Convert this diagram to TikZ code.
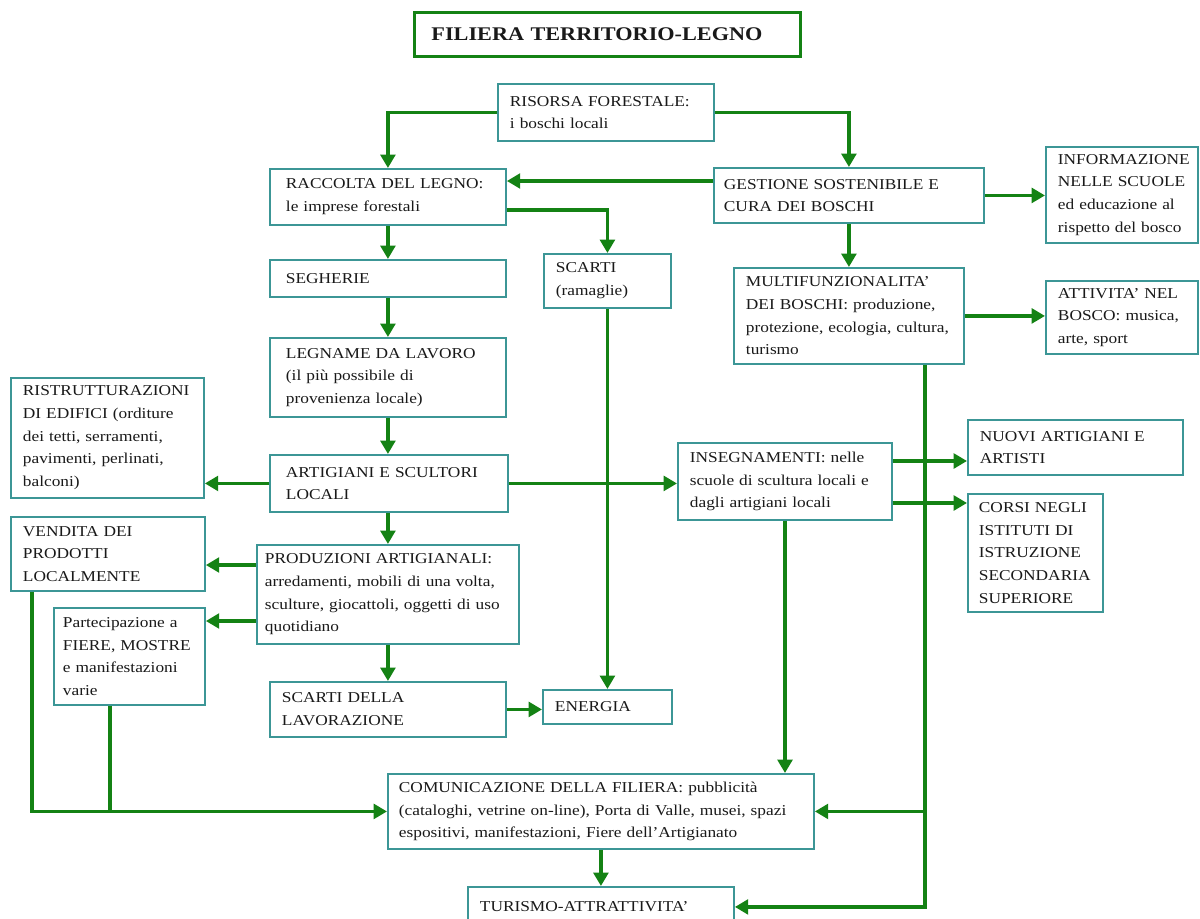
\documentclass[tikz,border=0pt]{standalone}
\usepackage{fontspec}
\setmainfont{Liberation Serif}[FakeStretch=1.15]
\usetikzlibrary{arrows.meta}
\definecolor{arrgreen}{RGB}{20,130,20}
\definecolor{boxteal}{RGB}{60,150,150}
\definecolor{txt}{RGB}{25,25,25}
\tikzset{
  box/.style={draw=boxteal, line width=1.4pt, fill=white, align=left, inner ysep=1pt,
    font=\fontsize{11.3}{17}\selectfont, text=txt},
  titlebox/.style={draw=arrgreen, line width=2.2pt, fill=white, align=left, inner ysep=1pt,
    font=\fontsize{14.5}{17}\selectfont\bfseries, text=txt},
  arr/.style={draw=arrgreen, line width=2.6pt, -{Triangle[length=10pt,width=11pt]}},
  lin/.style={draw=arrgreen, line width=2.6pt},
}
\newcommand\bx[7][12]{%
  \pgfmathsetmacro\bxw{(#5-#3)*0.75}%
  \pgfmathsetmacro\bxh{(#6-#4)*0.75}%
  \pgfmathsetmacro\bxs{#1*0.75}%
  \pgfmathsetmacro\bxt{(#5-#3-2*#1)*0.75}%
  \node[box, anchor=north west, inner xsep=\bxs pt, minimum width=\bxw pt,
    minimum height=\bxh pt, text width=\bxt pt] (#2) at (#3,#4) {#7};}
\begin{document}
\begin{tikzpicture}[x=0.75pt,y=-0.75pt]
\fill[white] (0,0) rectangle (1200,918);
\useasboundingbox (0,0) rectangle (1200,918);

% title
\node[titlebox, anchor=north west, inner xsep=12.75pt, minimum width=289.5pt,
  minimum height=33pt, text width=264pt] (title) at (413,11) {FILIERA TERRITORIO-LEGNO};

% boxes
\bx{ris}{497}{83}{713}{140}{RISORSA FORESTALE:\\ i boschi locali}
\bx[16]{rac}{269}{168}{505}{224}{RACCOLTA DEL LEGNO:\\ le imprese forestali}
\bx[16]{seg}{269}{259}{505}{296}{SEGHERIE}
\bx{sca}{543}{253}{670}{307}{SCARTI\\ (ramaglie)}
\bx[10]{ges}{713}{167}{983}{222}{GESTIONE SOSTENIBILE E\\ CURA DEI BOSCHI}
\bx{inf}{1045}{146}{1197}{242}{INFORMAZIONE\\ NELLE SCUOLE\\ ed educazione al\\ rispetto del bosco}
\bx{mul}{733}{267}{963}{363}{MULTIFUNZIONALITA'\\ DEI BOSCHI: produzione,\\ protezione, ecologia, cultura,\\ turismo}
\bx{att}{1045}{280}{1197}{353}{ATTIVITA' NEL\\ BOSCO: musica,\\ arte, sport}
\bx[16]{leg}{269}{337}{505}{416}{LEGNAME DA LAVORO\\ (il più possibile di\\ provenienza locale)}
\bx{rst}{10}{377}{203}{497}{RISTRUTTURAZIONI\\ DI EDIFICI (orditure\\ dei tetti, serramenti,\\ pavimenti, perlinati,\\ balconi)}
\bx[16]{art}{269}{454}{507}{511}{ARTIGIANI E SCULTORI\\ LOCALI}
\bx{ins}{677}{442}{891}{519}{INSEGNAMENTI: nelle\\ scuole di scultura locali e\\ dagli artigiani locali}
\bx{nuo}{967}{419}{1182}{474}{NUOVI ARTIGIANI E\\ ARTISTI}
\bx[11]{cor}{967}{493}{1102}{611}{CORSI NEGLI\\ ISTITUTI DI\\ ISTRUZIONE\\ SECONDARIA\\ SUPERIORE}
\bx{ven}{10}{516}{204}{590}{VENDITA DEI\\ PRODOTTI\\ LOCALMENTE}
\bx[8]{pro}{256}{544}{518}{643}{PRODUZIONI ARTIGIANALI:\\ arredamenti, mobili di una volta,\\ sculture, giocattoli, oggetti di uso\\ quotidiano}
\bx[9]{par}{53}{607}{204}{704}{Partecipazione a\\ FIERE,~MOSTRE\\ e manifestazioni\\ varie}
\bx{scl}{269}{681}{505}{736}{SCARTI DELLA\\ LAVORAZIONE}
\bx{ene}{542}{689}{671}{723}{ENERGIA}
\bx[11]{com}{387}{773}{813}{848}{COMUNICAZIONE DELLA FILIERA: pubblicità\\ (cataloghi, vetrine on-line), Porta di Valle, musei, spazi\\ espositivi, manifestazioni, Fiere dell'Artigianato}
\bx{tur}{467}{886}{733}{926}{TURISMO-ATTRATTIVITA'}

% connectors
\draw[arr] (ris.west) -| (rac.north);
\draw[arr] (ris.east) -| (ges.north);
\draw[arr] (ges.west |- 0,181) -- (rac.east |- 0,181);
\draw[arr] (rac.east |- 0,210) -| (sca.north);
\draw[arr] (rac.south) -- (seg.north);
\draw[arr] (seg.south) -- (leg.north);
\draw[arr] (leg.south) -- (art.north -| leg.south);
\draw[arr] (art.south -| leg.south) -- (pro.north -| leg.south);
\draw[arr] (pro.south -| leg.south) -- (scl.north -| leg.south);
\draw[arr] (art.west) -- (rst.east |- art.west);
\draw[arr] (art.east) -- (ins.west |- art.east);
\draw[arr] (sca.south) -- (ene.north -| sca.south);
\draw[arr] (scl.east) -- (ene.west |- scl.east);
\draw[arr] (pro.west |- 0,565) -- (ven.east |- 0,565);
\draw[arr] (pro.west |- 0,621) -- (par.east |- 0,621);
\draw[arr] (ven.south -| 32,0) |- (com.west);
\draw[lin] (par.south -| 110,0) -- (com.west -| 110,0);
\draw[arr] (ges.east) -- (inf.west |- ges.east);
\draw[arr] (ges.south) -- (mul.north -| ges.south);
\draw[arr] (mul.east) -- (att.west |- mul.east);
\draw[arr] (mul.south -| 925,0) |- (tur.east);
\draw[arr] (com.east -| 925,0) -- (com.east);
\draw[arr] (ins.east |- 0,461) -- (nuo.west |- 0,461);
\draw[arr] (ins.east |- 0,503) -- (cor.west |- 0,503);
\draw[arr] (ins.south -| 785,0) -- (com.north -| 785,0);
\draw[arr] (com.south) -- (tur.north -| com.south);
\end{tikzpicture}
\end{document}
